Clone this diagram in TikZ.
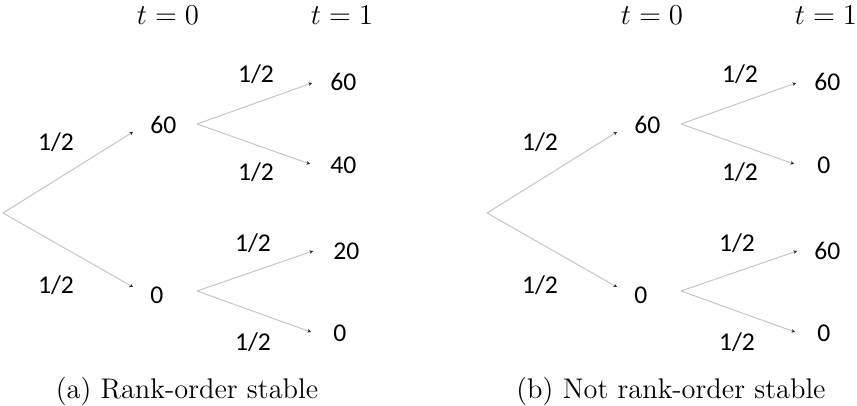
\documentclass[tikz,border=0pt]{standalone}
\usepackage{amsmath}
\usepackage{fontspec}
\setsansfont{Carlito}
\usepackage{tikz}
\usetikzlibrary{arrows.meta}

\begin{document}
\begin{tikzpicture}[x=0.5pt,y=-0.5pt,
  br/.style={draw=gray!45,line width=0.5pt,-{Stealth[length=1.8pt,width=1.8pt,black!85]}},
  val/.style={anchor=west,inner sep=0pt,font=\sffamily\fontsize{12.8}{14}\selectfont},
  prob/.style={inner sep=0pt,font=\sffamily\fontsize{12.8}{14}\selectfont},
  tlab/.style={inner sep=0pt,font=\fontsize{14}{16}\selectfont},
  capt/.style={inner sep=0pt,font=\fontsize{14.2}{17}\selectfont}]
  \useasboundingbox (0,0) rectangle (857,406);
  % (a) left tree
  \node[tlab] (at0) at (168,15) {$t=0$};
  \node[tlab] (at1) at (342,15) {$t=1$};
  \coordinate (a0) at (3,213);
  \coordinate (a1) at (133,132);
  \coordinate (a2) at (133,287);
  \node[val] (a1v) at (150,125) {60};
  \node[val] (a2v) at (150,295) {0};
  \coordinate (a1s) at (197,124);
  \coordinate (a2s) at (197,291);
  \coordinate (a11) at (312,83);
  \coordinate (a12) at (310,164);
  \coordinate (a21) at (313,251);
  \coordinate (a22) at (311,332);
  \node[val] (a11v) at (330,82) {60};
  \node[val] (a12v) at (330,165) {40};
  \node[val] (a21v) at (333,251) {20};
  \node[val] (a22v) at (333,333) {0};
  \draw[br] (a0) -- (a1);
  \draw[br] (a0) -- (a2);
  \draw[br] (a1s) -- (a11);
  \draw[br] (a1s) -- (a12);
  \draw[br] (a2s) -- (a21);
  \draw[br] (a2s) -- (a22);
  \node[prob] (ap1) at (56,142) {1/2};
  \node[prob] (ap2) at (56,285) {1/2};
  \node[prob] (ap11) at (256,74) {1/2};
  \node[prob] (ap12) at (256,172) {1/2};
  \node[prob] (ap21) at (253,243) {1/2};
  \node[prob] (ap22) at (253,342) {1/2};
  \node[capt] (acap) at (187,391) {(a) Rank-order stable};
  % (b) right tree
  \node[tlab] (bt0) at (652,15) {$t=0$};
  \node[tlab] (bt1) at (826,15) {$t=1$};
  \coordinate (b0) at (487,213);
  \coordinate (b1) at (617,132);
  \coordinate (b2) at (617,287);
  \node[val] (b1v) at (634,125) {60};
  \node[val] (b2v) at (634,295) {0};
  \coordinate (b1s) at (681,124);
  \coordinate (b2s) at (681,291);
  \coordinate (b11) at (796,83);
  \coordinate (b12) at (794,164);
  \coordinate (b21) at (797,251);
  \coordinate (b22) at (795,332);
  \node[val] (b11v) at (814,82) {60};
  \node[val] (b12v) at (817,165) {0};
  \node[val] (b21v) at (814,251) {60};
  \node[val] (b22v) at (817,333) {0};
  \draw[br] (b0) -- (b1);
  \draw[br] (b0) -- (b2);
  \draw[br] (b1s) -- (b11);
  \draw[br] (b1s) -- (b12);
  \draw[br] (b2s) -- (b21);
  \draw[br] (b2s) -- (b22);
  \node[prob] (bp1) at (540,142) {1/2};
  \node[prob] (bp2) at (540,285) {1/2};
  \node[prob] (bp11) at (740,74) {1/2};
  \node[prob] (bp12) at (740,172) {1/2};
  \node[prob] (bp21) at (737,243) {1/2};
  \node[prob] (bp22) at (737,342) {1/2};
  \node[capt] (bcap) at (671,391) {(b) Not rank-order stable};
\end{tikzpicture}
\end{document}
